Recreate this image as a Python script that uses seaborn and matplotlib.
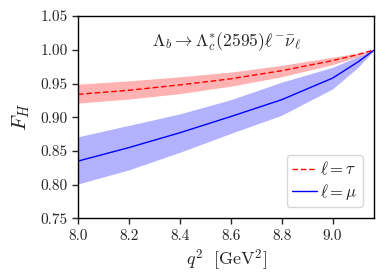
import matplotlib
matplotlib.use("Agg")
import matplotlib.pyplot as plt
import seaborn as sns
import numpy as np
import pandas as pd

q2 = [8.0, 8.2, 8.4, 8.6, 8.8, 9.0, 9.1, 9.1646]
tau_c = [0.934, 0.940, 0.948, 0.957, 0.969, 0.984, 0.993, 1.0]
tau_hi = [0.949, 0.954, 0.960, 0.967, 0.977, 0.989, 0.995, 1.0]
tau_lo = [0.921, 0.927, 0.935, 0.946, 0.960, 0.978, 0.990, 1.0]
mu_c = [0.835, 0.855, 0.877, 0.901, 0.926, 0.958, 0.982, 1.0]
mu_hi = [0.871, 0.888, 0.905, 0.926, 0.952, 0.974, 0.990, 1.0]
mu_lo = [0.801, 0.822, 0.848, 0.876, 0.903, 0.942, 0.974, 1.0]

sns.set_style("ticks")
plt.rcParams["font.family"] = ["cmr10", "DejaVu Serif"]
plt.rcParams["mathtext.fontset"] = "cm"
plt.rcParams["axes.formatter.use_mathtext"] = True
plt.rcParams["axes.unicode_minus"] = False

df = pd.DataFrame({"q2": q2 + q2,
                   "F": tau_c + mu_c,
                   "lep": [r"$\ell=\tau$"] * len(q2) + [r"$\ell=\mu$"] * len(q2)})

fig = plt.figure(figsize=(3.9, 2.73), dpi=100)
ax = fig.add_axes([0.2, 0.2, 0.76, 0.741])

ax.fill_between(q2, tau_lo, tau_hi, color="red", alpha=0.3, lw=0)
ax.fill_between(q2, mu_lo, mu_hi, color="blue", alpha=0.3, lw=0)
sns.lineplot(data=df, x="q2", y="F", hue="lep", style="lep",
             palette={r"$\ell=\tau$": "red", r"$\ell=\mu$": "blue"},
             dashes={r"$\ell=\tau$": (4, 2), r"$\ell=\mu$": ""},
             lw=1.0, ax=ax)

ax.set_xlim(8.0, 9.1646)
ax.set_ylim(0.75, 1.05)
ax.set_xticks([8.0, 8.2, 8.4, 8.6, 8.8, 9.0])
ax.set_xticklabels(["8.0", "8.2", "8.4", "8.6", "8.8", "9.0"])
ax.set_yticks([0.75, 0.80, 0.85, 0.90, 0.95, 1.00, 1.05])
ax.set_yticklabels(["0.75", "0.80", "0.85", "0.90", "0.95", "1.00", "1.05"])
ax.tick_params(labelsize=11, length=4, width=1, direction="out")
for s in ax.spines.values():
    s.set_linewidth(1.0)
    s.set_color("black")

ax.set_xlabel(r"$q^2\ \ [\mathrm{GeV}^2]$", fontsize=13, labelpad=4)
ax.set_ylabel(r"$F_H$", fontsize=15, labelpad=6)
ax.text(0.5, 0.875, r"$\Lambda_b\to\Lambda_c^{*}(2595)\ell^{-}\bar{\nu}_{\ell}$",
        transform=ax.transAxes, ha="center", va="center", fontsize=12.7)

ax.legend(loc="lower right", fontsize=12, handlelength=1.5, handletextpad=0.2,
          borderpad=0.3, labelspacing=0.25, borderaxespad=0.7,
          frameon=True, framealpha=0.8)

fig.savefig("out.png", dpi=100)
